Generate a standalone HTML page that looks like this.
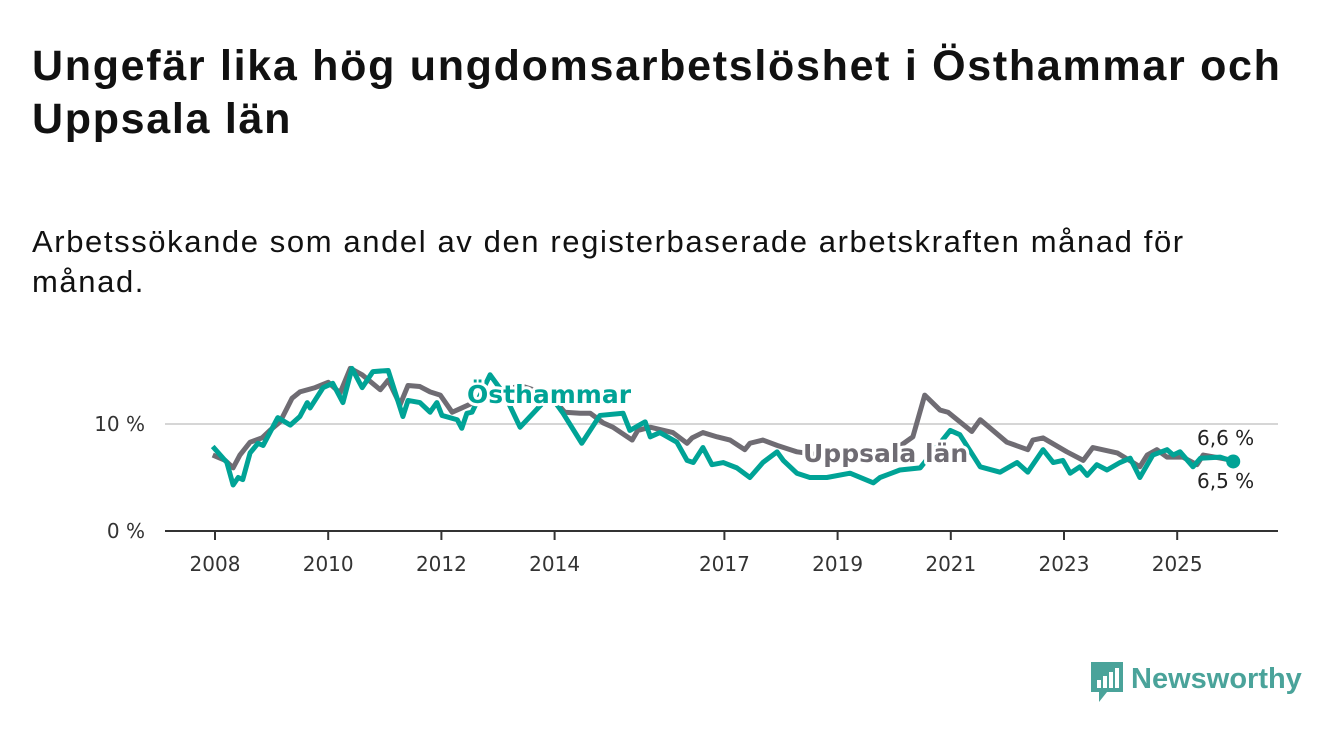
<!DOCTYPE html>
<html><head><meta charset="utf-8"><style>
body{margin:0;background:#fff;width:1340px;height:734px;overflow:hidden;font-family:"Liberation Sans","DejaVu Sans",sans-serif;color:#111}
h1{position:absolute;left:32px;top:40px;margin:0;font-size:43px;line-height:53px;font-weight:bold;width:1290px;letter-spacing:1.7px;color:#111}
p.sub{position:absolute;left:32px;top:222px;margin:0;font-size:31px;line-height:40px;width:1190px;letter-spacing:1.6px;color:#111}
svg{position:absolute;left:0;top:0}
</style></head><body>
<h1>Ungefär lika hög ungdomsarbetslöshet i Östhammar och Uppsala län</h1>
<p class="sub">Arbetssökande som andel av den registerbaserade arbetskraften månad för månad.</p>
<svg id="chart" width="1340" height="734"></svg>
<script>
const xTicks=[2008,2010,2012,2014,2017,2019,2021,2023,2025];
const yTicks=[0,10];
const uppDates=[2007.96,2008.18,2008.32,2008.44,2008.62,2008.83,2008.97,2009.15,2009.36,2009.5,2009.77,2010.0,2010.21,2010.39,2010.6,2010.92,2011.06,2011.27,2011.41,2011.62,2011.8,2011.98,2012.19,2012.36,2012.86,2013.39,2013.92,2014.18,2014.45,2014.63,2014.86,2015.03,2015.37,2015.47,2015.69,2016.09,2016.34,2016.43,2016.62,2016.87,2017.1,2017.36,2017.45,2017.68,2017.93,2018.16,2018.28,2018.69,2019.4,2020.01,2020.33,2020.54,2020.81,2020.95,2021.37,2021.52,2021.99,2022.36,2022.45,2022.63,2023.05,2023.34,2023.51,2023.94,2024.34,2024.47,2024.64,2024.82,2025.1,2025.35,2025.46,2025.99];
const uppValues=[7.1,6.6,5.9,7.1,8.3,8.7,9.4,10.2,12.4,13.0,13.4,13.9,12.9,15.2,14.6,13.2,14.1,11.8,13.6,13.5,13.0,12.7,11.1,11.5,12.7,13.6,12.7,11.1,11.0,11.0,10.1,9.7,8.5,9.4,9.7,9.2,8.2,8.7,9.2,8.8,8.5,7.6,8.2,8.5,8.0,7.6,7.4,7.1,6.8,7.6,8.8,12.7,11.3,11.1,9.3,10.4,8.3,7.6,8.5,8.7,7.4,6.6,7.8,7.3,6.0,7.1,7.6,6.9,6.9,6.2,7.1,6.6];
const ostDates=[2007.96,2008.21,2008.32,2008.41,2008.49,2008.62,2008.76,2008.85,2009.11,2009.33,2009.5,2009.63,2009.68,2009.91,2010.08,2010.26,2010.42,2010.6,2010.79,2011.06,2011.32,2011.41,2011.62,2011.8,2011.92,2012.01,2012.28,2012.36,2012.45,2012.54,2012.86,2013.12,2013.39,2013.62,2013.92,2014.15,2014.48,2014.8,2015.21,2015.33,2015.6,2015.69,2015.86,2016.16,2016.34,2016.45,2016.62,2016.78,2016.98,2017.22,2017.45,2017.68,2017.93,2018.04,2018.28,2018.51,2018.81,2019.22,2019.63,2019.75,2020.1,2020.46,2020.99,2021.16,2021.52,2021.87,2022.17,2022.36,2022.63,2022.81,2022.98,2023.11,2023.28,2023.41,2023.58,2023.76,2023.99,2024.17,2024.34,2024.57,2024.82,2024.93,2025.05,2025.28,2025.41,2025.76,2025.99];
const ostValues=[7.9,6.4,4.3,5.0,4.8,7.3,8.2,8.0,10.6,9.9,10.7,12.0,11.5,13.4,13.8,12.0,15.2,13.4,14.9,15.0,10.7,12.2,12.0,11.1,12.0,10.8,10.4,9.6,11.0,11.1,14.6,12.7,9.7,11.0,12.7,11.0,8.2,10.8,11.0,9.4,10.2,8.8,9.2,8.3,6.6,6.4,7.8,6.2,6.4,5.9,5.0,6.4,7.4,6.6,5.4,5.0,5.0,5.4,4.5,5.0,5.7,5.9,9.4,9.0,6.0,5.5,6.4,5.5,7.6,6.4,6.6,5.4,6.0,5.2,6.2,5.7,6.4,6.8,5.0,7.1,7.6,7.1,7.4,6.0,6.8,6.9,6.5];

const NS="http://www.w3.org/2000/svg";
const svg=document.getElementById('chart');
const X=y=>215+(y-2008)*56.6;
const Y=v=>531-v*10.7;
function mk(tag,attrs,parent){const e=document.createElementNS(NS,tag);for(const k in attrs)e.setAttribute(k,attrs[k]);(parent||svg).appendChild(e);return e;}

yTicks.forEach(t=>{
  if(t>0){const g=mk('line',{x1:165,x2:1278,y1:Y(t),y2:Y(t),stroke:'#d6d6d6','stroke-width':2});
  
  }
  const l=mk('text',{x:145,y:Y(t)+7,'text-anchor':'end','font-size':20,fill:'#333','font-family':'DejaVu Sans, sans-serif'});
  l.textContent=t+' %';
  
  
});
const ax=mk('line',{x1:165,x2:1278,y1:531,y2:531,stroke:'#333','stroke-width':2});


xTicks.forEach(t=>{
  const tk=mk('line',{x1:X(t),x2:X(t),y1:531,y2:540,stroke:'#333','stroke-width':2});
  
  
  const l=mk('text',{x:X(t),y:571,'text-anchor':'middle','font-size':20,fill:'#333','font-family':'DejaVu Sans, sans-serif'});
  l.textContent=t;
  
  
});
function line(d,v,c,name){
  const p=mk('polyline',{points:d.map((y,i)=>X(y)+','+Y(v[i])).join(' '),fill:'none',stroke:c,'stroke-width':5,'stroke-linejoin':'round'});
  
  
}
line(uppDates,uppValues,'#6f6c73','uppsala-lan-line');
line(ostDates,ostValues,'#00a396','osthammar-line');
const dot=mk('circle',{cx:X(ostDates[ostDates.length-1]),cy:Y(ostValues[ostValues.length-1]),r:7,fill:'#00a396'});


function lab(txt,x,y,c,size,bold,name,halo){
  const t=mk('text',{x:x,y:y,fill:c,'font-size':size,'font-weight':bold?'bold':'normal','font-family':'DejaVu Sans, sans-serif'});
  if(halo){t.setAttribute('stroke','#fff');t.setAttribute('stroke-width',6);t.setAttribute('paint-order','stroke');t.setAttribute('stroke-linejoin','round');}
  t.textContent=txt;
  
  
}
lab('Östhammar',467,403,'#00a396',25,true,'osthammar-label',true);
lab('Uppsala län',803,462,'#6f6c73',25,true,'uppsala-label',true);
lab('6,6 %',1197,445,'#222',20,false,'uppsala-end-value',true);
lab('6,5 %',1197,488,'#222',20,false,'osthammar-end-value',true);
</script>
<div style="position:absolute;left:1089px;top:660px;height:44px;display:flex;align-items:center">
<svg width="36" height="44" style="position:static"><path d="M2 2h32v30H18l-8 10v-10H2z" fill="#4aa39a"/><rect x="8" y="20" width="4" height="8" fill="#fff"/><rect x="14" y="16" width="4" height="12" fill="#fff"/><rect x="20" y="12" width="4" height="16" fill="#fff"/><rect x="26" y="8" width="4" height="20" fill="#fff"/></svg>
<span style="font-size:29px;color:#4aa39a;font-weight:bold;margin-left:6px;margin-top:-6px">Newsworthy</span></div>
</body></html>
